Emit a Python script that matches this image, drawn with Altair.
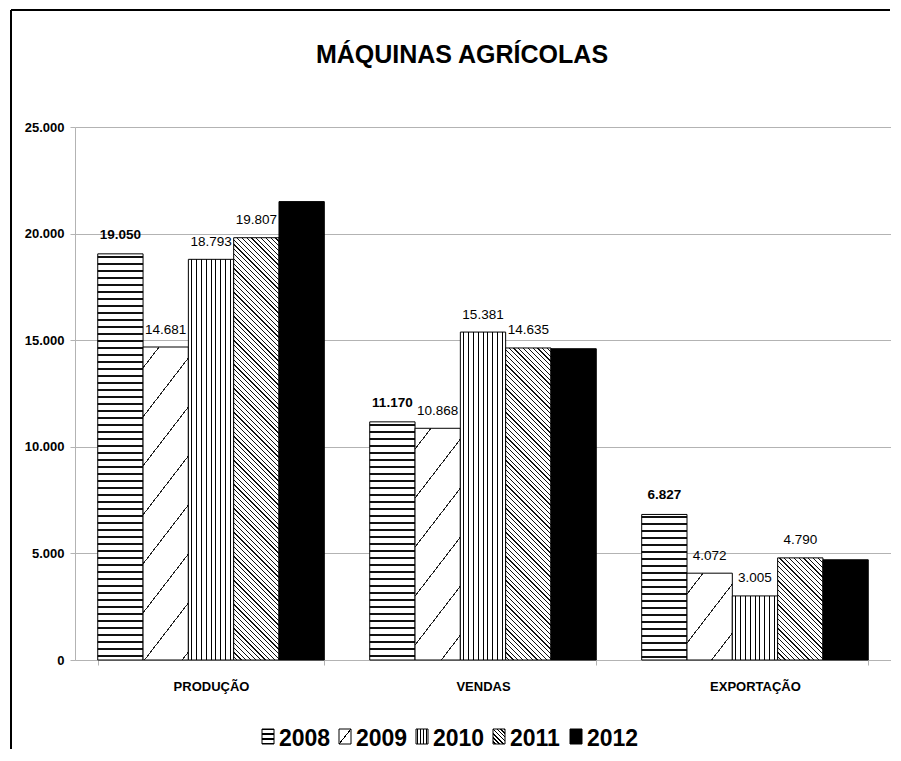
import math
import altair as alt
import pandas as pd

# ---------------- data ----------------
categories = ["PRODUÇÃO", "VENDAS", "EXPORTAÇÃO"]
years = ["2008", "2009", "2010", "2011", "2012"]
v2008 = [19050, 11170, 6827]
v2009 = [14681, 10868, 4072]
v2010 = [18793, 15381, 3005]
v2011 = [19807, 14635, 4790]
v2012 = [21500, 14600, 4700]
labelled_years = ["2008", "2009", "2010", "2011"]
y_ticks = [0, 5000, 10000, 15000, 20000, 25000]
title_text = "MÁQUINAS AGRÍCOLAS"

series = {"2008": v2008, "2009": v2009, "2010": v2010, "2011": v2011, "2012": v2012}
rows = []
for y in years:
    for i, c in enumerate(categories):
        rows.append({"cat": c, "ci": i, "year": y, "value": series[y][i]})
df = pd.DataFrame(rows)

# ---------------- layout / style ----------------
W, H = 816, 533
YMAX = 25000
PAD_IN = 0.167
PAD_OUT = 0.0836
STEP = W / (3 - PAD_IN + 2 * PAD_OUT)
BAR_W = STEP * (1 - PAD_IN) / 5

SANS = "Liberation Sans, Arial, sans-serif"
GRID = "#b3b3b3"


def stripes(kind, w, h, period, lw, k=1.0, phase=None, fg="black", bg="white"):
    if kind == "h":
        L = h
        coords = dict(x1=0, y1=0, x2=0, y2=1)
    elif kind == "v":
        L = w
        coords = dict(x1=0, y1=0, x2=1, y2=0)
    elif kind == "/":
        L = k * w + h
        b = L / ((k * w) ** 2 + h ** 2)
        coords = dict(x1=0, y1=0, x2=b * k * w, y2=b * h)
    else:  # "\\"
        L = k * w + h
        b = L / ((k * w) ** 2 + h ** 2)
        coords = dict(x1=0, y1=1, x2=b * k * w, y2=1 - b * h)
    if phase is None:
        phase = period / 2
    stops = [(0.0, bg)]
    s = phase - period * math.ceil(phase / period)
    while s < L:
        a, e = max(s, 0.0), min(s + lw, L)
        if e > 0 and a < L:
            stops += [(a / L, bg), (a / L, fg), (e / L, fg), (e / L, bg)]
        s += period
    stops.append((1.0, bg))
    return alt.LinearGradient(
        gradient="linear",
        stops=[alt.GradientStop(offset=round(o, 5), color=c) for o, c in stops],
        **coords,
    )


def bar_pattern(year, w, h):
    if year == "2008":
        return stripes("h", w, h, 7.0, 1.9, phase=2.0, fg="#111111")
    if year == "2009":
        return stripes("/", w, h, 49.0, 1.6, k=1.3, phase=20.0, fg="#222222")
    if year == "2010":
        return stripes("v", w, h, 4.8, 1.1, phase=3.0)
    if year == "2011":
        return stripes("\\", w, h, 4.8, 1.3, k=1.0, fg="#111111")
    return "black"


x_axis = alt.Axis(
    title=None, labelFont=SANS, labelFontWeight="bold", labelFontSize=13,
    labelColor="black", labelAngle=0, tickBand="extent", tickSize=5,
    tickColor=GRID, domainColor=GRID, labelPadding=15, grid=False,
)
y_axis = alt.Axis(
    title=None, values=y_ticks,
    labelExpr="replace(format(datum.value, ','), ',', '.')",
    labelFont=SANS, labelFontWeight="bold", labelFontSize=13, labelColor="black",
    labelPadding=6, tickSize=5, tickColor=GRID, domainColor=GRID,
    gridColor=GRID, gridWidth=1,
)
enc = dict(
    x=alt.X("cat:N", scale=alt.Scale(domain=categories, paddingInner=PAD_IN,
                                      paddingOuter=PAD_OUT), axis=x_axis),
    xOffset=alt.XOffset("year:N", scale=alt.Scale(domain=years, paddingInner=0,
                                                   paddingOuter=0)),
    y=alt.Y("value:Q", scale=alt.Scale(domain=[0, YMAX], nice=False), axis=y_axis),
)

base = alt.Chart(df)
layers = []
for y in years:
    for i, c in enumerate(categories):
        h = series[y][i] / YMAX * H
        layers.append(
            base.transform_filter(f"datum.year == '{y}' && datum.ci == {i}")
            .mark_bar(fill=bar_pattern(y, BAR_W, h), stroke="black", strokeWidth=1)
            .encode(**enc)
        )

label_expr = "replace(format(datum.value, ','), ',', '.')"
layers.append(
    base.transform_filter("datum.year == '2008'")
    .transform_calculate(lbl=label_expr)
    .mark_text(font=SANS, fontWeight="bold", fontSize=13.5, color="black",
               baseline="middle", dy=-19)
    .encode(text="lbl:N", **enc)
)
layers.append(
    base.transform_filter(alt.FieldOneOfPredicate(field="year", oneOf=labelled_years[1:]))
    .transform_calculate(lbl=label_expr)
    .mark_text(font=SANS, fontSize=13.5, color="black", baseline="middle", dy=-17.5)
    .encode(text="lbl:N", **enc)
)

one = alt.Data(values=[{"k": 0}])

# title
layers.append(
    alt.Chart(one).mark_text(font=SANS, fontWeight="bold", fontSize=25,
                             color="black", align="center", baseline="alphabetic")
    .encode(x=alt.value(387), y=alt.value(-64), text=alt.value(title_text))
)

# frame (left and top edges of the chart area)
layers.append(
    alt.Chart(one).mark_rule(color="black", strokeWidth=2)
    .encode(x=alt.value(-64), y=alt.value(-117), y2=alt.value(622))
)
layers.append(
    alt.Chart(one).mark_rule(color="black", strokeWidth=2)
    .encode(x=alt.value(-64), x2=alt.value(W - 1), y=alt.value(-117))
)

# custom legend with pattern swatches
SW, SH = 12, 15
LX0, LSTEP = 262 - 75, 77
LY = 729 - 127
for j, y in enumerate(years):
    sx = LX0 + j * LSTEP
    if y == "2008":
        g = stripes("h", SW, SH, SH / 3, 1.2, phase=SH / 3 - 0.6)
    elif y == "2009":
        g = stripes("/", SW, SH, 100, 1.6, k=SH / SW, phase=SH - 0.8)
    elif y == "2010":
        g = stripes("v", SW, SH, 3.0, 1.0, phase=1.0)
    elif y == "2011":
        g = stripes("\\", SW, SH, 4.0, 1.3)
    else:
        g = "black"
    layers.append(
        alt.Chart(one).mark_rect(fill=g, stroke="black", strokeWidth=1)
        .encode(x=alt.value(sx), x2=alt.value(sx + SW), y=alt.value(LY),
                y2=alt.value(LY + SH))
    )
    layers.append(
        alt.Chart(one).mark_text(font=SANS, fontWeight="bold", fontSize=23,
                                 color="black", align="left", baseline="alphabetic")
        .encode(x=alt.value(sx + SW + 5), y=alt.value(LY + SH + 2), text=alt.value(y))
    )

chart = (
    alt.layer(*layers)
    .properties(width=W, height=H, padding={"left": 2, "top": 1, "right": 0, "bottom": 0})
    .configure_view(stroke=None)
)

chart.save("out.html", embed_options={"renderer": "svg", "actions": False})
